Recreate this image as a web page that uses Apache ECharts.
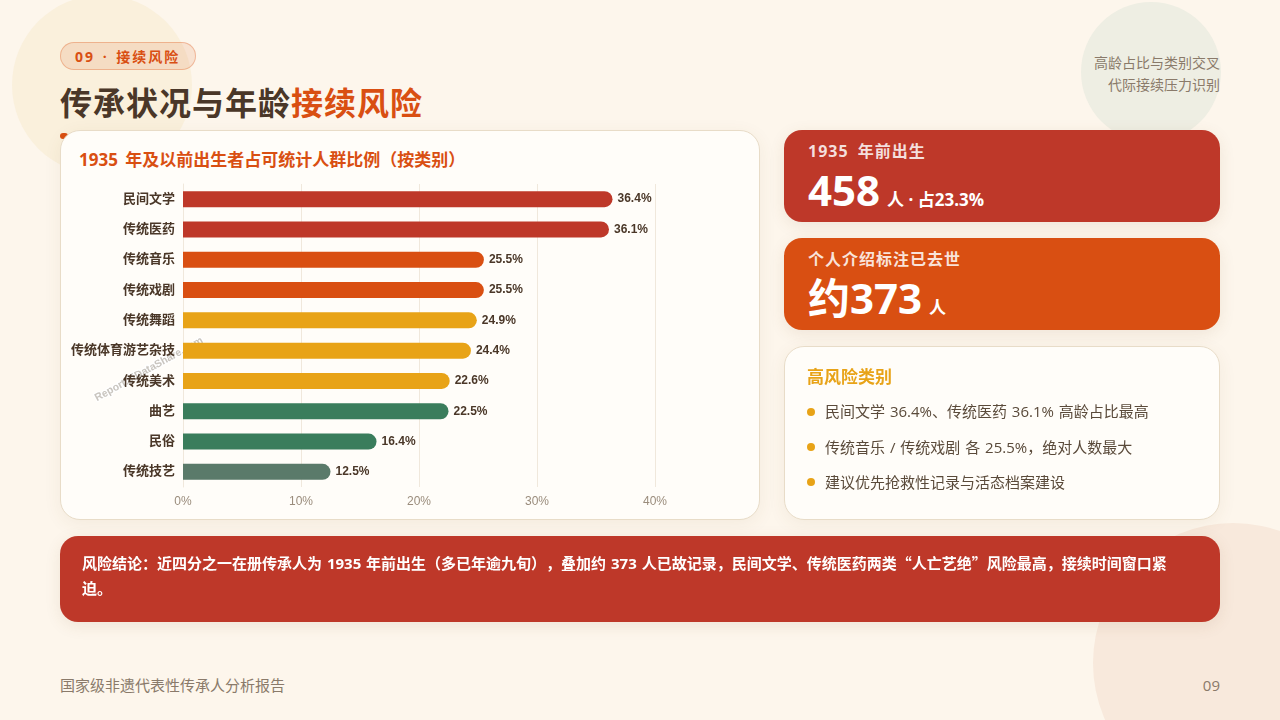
<!DOCTYPE html>
<html lang="zh">
<head>
<meta charset="utf-8">
<title>传承状况与年龄接续风险</title>
<script src="https://cdn.jsdelivr.net/npm/echarts@6/dist/echarts.min.js"></script>
<style>
  * { margin: 0; padding: 0; box-sizing: border-box; }
  html, body { width: 1280px; height: 720px; overflow: hidden; }
  body { position: relative; background: #fdf6ec; font-family: "Open Sans", "Noto Sans CJK SC", sans-serif; color: #4a3728; text-spacing-trim: space-all; }
  .abs { position: absolute; }
  .circle { position: absolute; border-radius: 50%; }
  .badge { left: 60px; top: 42px; width: 136px; height: 28px; border-radius: 14px; background: rgba(217, 79, 18, .12); border: 1px solid rgba(217, 79, 18, .3); color: #d94f12; font-size: 14px; font-weight: 700; line-height: 28px; padding-left: 14px; letter-spacing: 2px; word-spacing: 2px; white-space: nowrap; }
  .title { left: 60px; top: 80px; font-size: 32px; font-weight: 700; letter-spacing: 1px; line-height: 46px; white-space: nowrap; }
  .title em { font-style: normal; color: #d94f12; }
  .rule { left: 60px; top: 133px; width: 8px; height: 6px; border-radius: 3px; background: #d94f12; }
  .side-note { right: 60px; top: 52px; width: 200px; text-align: right; font-size: 14px; line-height: 22.4px; color: #8a7a6a; }
  .card { background: #fffdf9; border: 1px solid #e8dcc8; border-radius: 20px; box-shadow: 0 4px 18px rgba(120, 80, 40, .07); }
  .chart-card { left: 60px; top: 130px; width: 700px; height: 390px; }
  .chart-title { left: 79px; top: 147px; font-size: 17px; font-weight: 700; line-height: 25px; color: #d94f12; word-spacing: 3px; white-space: nowrap; }
  #chart { left: 60px; top: 130px; width: 700px; height: 390px; }
  .stat { left: 784px; width: 436px; height: 92px; border-radius: 18px; color: #fff; box-shadow: 0 4px 16px rgba(120, 80, 40, .1); }
  .stat .label { position: absolute; left: 24px; top: 9px; font-size: 16px; font-weight: 700; letter-spacing: 1px; word-spacing: 4px; line-height: 24px; color: rgba(255, 255, 255, .85); white-space: nowrap; }
  .stat .value { position: absolute; left: 24px; top: 28px; font-size: 42px; font-weight: 700; line-height: 64px; white-space: nowrap; }
  .stat .value small { font-size: 17px; margin-left: 7px; }
  .risk-card { left: 784px; top: 346px; width: 436px; height: 174px; }
  .risk-title { left: 807px; top: 364px; font-size: 17px; font-weight: 700; line-height: 25px; color: #e8a317; }
  .risk-item { left: 825px; font-size: 15px; line-height: 24px; color: #5a4a3a; word-spacing: 1px; white-space: nowrap; }
  .dot { left: 807px; width: 8px; height: 8px; border-radius: 50%; background: #e8a317; }
  .banner { left: 60px; top: 536px; width: 1160px; height: 86px; border-radius: 18px; background: #be3829; color: #fff; padding: 14px 22px; font-size: 15px; font-weight: 700; line-height: 25px; word-spacing: 1px; box-shadow: 0 4px 16px rgba(120, 80, 40, .1); }
  .banner span { font-family: "Noto Sans CJK SC"; }
  .footer { top: 674px; font-size: 15px; line-height: 22px; color: #8a7a6a; }
</style>
</head>
<body>
  <div class="circle" style="left:12px;top:-5px;width:180px;height:180px;background:#faf0dc"></div>
  <div class="circle" style="left:1081px;top:2px;width:140px;height:140px;background:#eeeee3"></div>
  <div class="circle" style="left:1093px;top:523px;width:280px;height:280px;background:#f8e9dc"></div>

  <div class="abs badge">09 · 接续风险</div>
  <div class="abs title">传承状况与年龄<em>接续风险</em></div>
  <div class="abs rule"></div>
  <div class="abs side-note">高龄占比与类别交叉<br>代际接续压力识别</div>

  <div class="abs card chart-card"></div>
  <div class="abs chart-title">1935 年及以前出生者占可统计人群比例（按类别）</div>
  <div class="abs" id="chart"></div>

  <div class="abs stat" style="top:130px;background:#be3829">
    <div class="label">1935 年前出生</div>
    <div class="value">458<small>人 · 占23.3%</small></div>
  </div>
  <div class="abs stat" style="top:238px;background:#d94f12">
    <div class="label">个人介绍标注已去世</div>
    <div class="value">约373<small>人</small></div>
  </div>

  <div class="abs card risk-card"></div>
  <div class="abs risk-title">高风险类别</div>
  <div class="abs dot" style="top:408px"></div>
  <div class="abs risk-item" style="top:399px">民间文学 36.4%、传统医药 36.1% 高龄占比最高</div>
  <div class="abs dot" style="top:443px"></div>
  <div class="abs risk-item" style="top:435px">传统音乐 / 传统戏剧 各 25.5%，绝对人数最大</div>
  <div class="abs dot" style="top:478px"></div>
  <div class="abs risk-item" style="top:470px">建议优先抢救性记录与活态档案建设</div>

  <div class="abs banner">风险结论：近四分之一在册传承人为 1935 年前出生（多已年逾九旬），叠加约 373 人已故记录，民间文学、传统医药两类<span>“</span>人亡艺绝<span>”</span>风险最高，接续时间窗口紧<br>迫。</div>

  <div class="abs footer" style="left:60px">国家级非遗代表性传承人分析报告</div>
  <div class="abs footer" style="right:60px">09</div>

<script>
  const categories = ['民间文学', '传统医药', '传统音乐', '传统戏剧', '传统舞蹈', '传统体育游艺杂技', '传统美术', '曲艺', '民俗', '传统技艺'];
  const shareValues = [36.4, 36.1, 25.5, 25.5, 24.9, 24.4, 22.6, 22.5, 16.4, 12.5];
  const barColors = ['#be3829', '#be3829', '#d94f12', '#d94f12', '#e8a317', '#e8a317', '#e8a317', '#3a7d5c', '#3a7d5c', '#5a7a6a'];

  const chartDom = document.getElementById('chart');
  const myChart = echarts.init(chartDom);

  myChart.setOption({
    animation: false,
    grid: { left: 123, top: 54, width: 472, height: 303 },
    xAxis: {
      type: 'value',
      min: 0,
      max: 40,
      interval: 10,
      axisLine: { show: false },
      axisTick: { show: false },
      axisLabel: { formatter: '{value}%', fontSize: 12, color: '#9a8c7c', fontFamily: 'Liberation Sans', margin: 9 },
      splitLine: { lineStyle: { color: '#f0e8dc', width: 1 } }
    },
    yAxis: {
      type: 'category',
      inverse: true,
      data: categories,
      axisLine: { lineStyle: { color: '#f0e8dc' } },
      axisTick: { show: false },
      axisLabel: { fontSize: 13, fontWeight: 'bold', color: '#4a3728', fontFamily: 'Liberation Sans, Noto Sans CJK SC', margin: 8 }
    },
    series: [{
      type: 'bar',
      barWidth: 16,
      data: shareValues.map((value, i) => ({
        value: value,
        itemStyle: { color: barColors[i], borderRadius: [0, 8, 8, 0] }
      })),
      label: {
        show: true,
        position: 'right',
        distance: 5,
        formatter: '{c}%',
        fontSize: 12,
        fontWeight: 'bold',
        color: '#4a3728',
        fontFamily: 'Liberation Sans'
      }
    }],
    graphic: [{
      type: 'text',
      x: 33,
      y: 264,
      rotation: 29 * Math.PI / 180,
      silent: true,
      style: {
        text: 'Report.4iDataShare.com',
        fontSize: 10.5,
        fontWeight: 'bold',
        fontFamily: 'Liberation Sans',
        fill: '#c9c5bf',
        stroke: '#ffffff',
        lineWidth: 2.5
      }
    }]
  });

  window.addEventListener('resize', myChart.resize);
</script>
</body>
</html>
